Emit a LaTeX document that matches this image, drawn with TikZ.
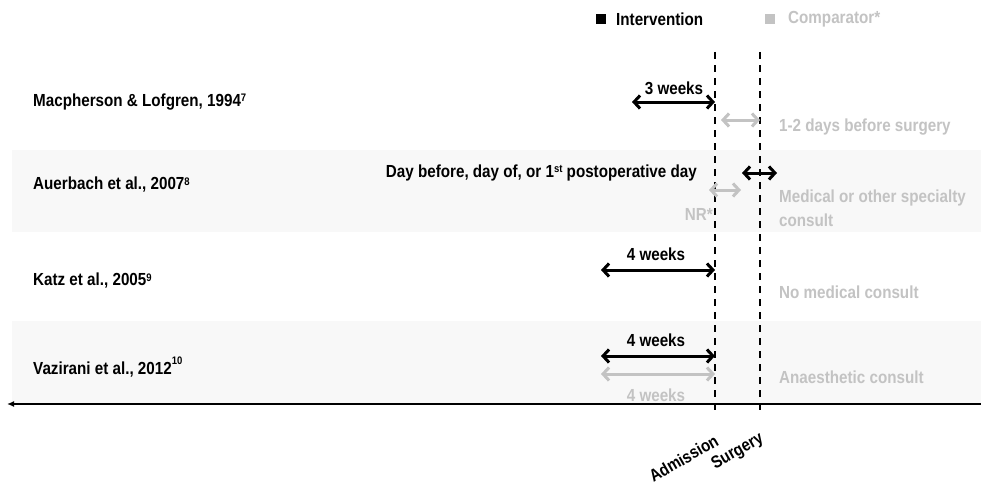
\documentclass[tikz,border=0pt]{standalone}
\usepackage{fontspec}
\setmainfont{Liberation Sans}
\usetikzlibrary{arrows.meta}
\definecolor{comp}{RGB}{195,195,195}
\definecolor{bandcol}{RGB}{248,248,248}
\newcommand\supsm[1]{\raisebox{0.5ex}{\fontsize{9.5}{10}\selectfont #1}}
\newcommand\suphi[1]{\raisebox{1.1ex}{\fontsize{9.5}{10}\selectfont #1}}
\begin{document}
\begin{tikzpicture}[x=1pt,y=-1pt,
  lbl/.style={font=\bfseries\fontsize{15.2}{21}\selectfont, inner sep=0pt, yscale=1.15},
  graylbl/.style={lbl, text=comp},
  axlbl/.style={font=\bfseries\fontsize{15}{18}\selectfont, inner sep=0pt, rotate=30, yscale=1.15},
  span/.style={line width=3pt, {Straight Barb[length=6pt,width=13pt]}-{Straight Barb[length=6pt,width=13pt]}},
  intv/.style={span, draw=black},
  cmp/.style={span, draw=comp},
  timeline/.style={dashed, line width=1.7pt, dash pattern=on 7pt off 6pt},
  axisline/.style={line width=1.6pt, -{Latex[length=7pt,width=6pt]}},
  legsq/.style={minimum size=10pt, inner sep=0pt, draw=none}
]
\useasboundingbox (0,0) rectangle (981,487);
\fill[white] (0,0) rectangle (981,487);
% shaded bands
\fill[bandcol] (12,150) rectangle (981,232);
\fill[bandcol] (12,321) rectangle (981,403);

% legend
\node[legsq, fill=black] (sqI) at (601,19) {};
\node[lbl, anchor=west] (legI) at (616,19) {Intervention};
\node[legsq, fill=comp] (sqC) at (770,19) {};
\node[graylbl, anchor=west] (legC) at (788,19) {Comparator*};

% time lines
\coordinate (admTop) at (715,52);
\coordinate (admBot) at (715,413);
\coordinate (surTop) at (760,52);
\coordinate (surBot) at (760,413);
\draw[timeline] (admTop) -- (admBot);
\draw[timeline] (surTop) -- (surBot);

% axis
\coordinate (axR) at (981,404);
\coordinate (axL) at (7,404);
\draw[axisline] (axR) -- (axL);

% axis labels
\node[axlbl, anchor=east] (adm) at (717,439) {Admission};
\node[axlbl, anchor=west] (sur) at (713,466) {Surgery};

% row 1
\node[lbl, anchor=west] (r1) at (33,102) {Macpherson \& Lofgren, 1994\supsm{7}};
\coordinate (a1l) at (632,102);
\coordinate (a1r) at (715,102);
\draw[intv] (a1l) -- (a1r);
\node[lbl] (t1) at (674,88) {3 weeks};
\coordinate (c1l) at (721,120);
\coordinate (c1r) at (760,120);
\draw[cmp] (c1l) -- (c1r);
\node[graylbl, anchor=west] (g1) at (779,127) {1-2 days before surgery};

% row 2
\node[lbl, anchor=west] (r2) at (33,185) {Auerbach et al., 2007\supsm{8}};
\node[lbl, anchor=east] (t2) at (697,173) {Day before, day of, or 1\supsm{st} postoperative day};
\coordinate (a2l) at (742,173);
\coordinate (a2r) at (777,173);
\draw[intv] (a2l) -- (a2r);
\coordinate (c2l) at (709,190);
\coordinate (c2r) at (741,190);
\draw[cmp] (c2l) -- (c2r);
\node[graylbl, anchor=east] (nr) at (713,214) {NR*};
\node[graylbl, anchor=west, align=left] (g2) at (779,208) {Medical or other specialty\\consult};

% row 3
\node[lbl, anchor=west] (r3) at (33,281) {Katz et al., 2005\supsm{9}};
\coordinate (a3l) at (601,270);
\coordinate (a3r) at (715,270);
\draw[intv] (a3l) -- (a3r);
\node[lbl] (t3) at (656,254) {4 weeks};
\node[graylbl, anchor=west] (g3) at (779,292) {No medical consult};

% row 4
\node[lbl, anchor=west] (r4) at (33,367) {Vazirani et al., 2012\suphi{10}};
\coordinate (a4l) at (601,356);
\coordinate (a4r) at (715,356);
\draw[intv] (a4l) -- (a4r);
\node[lbl] (t4) at (656,340) {4 weeks};
\coordinate (c4l) at (601,374);
\coordinate (c4r) at (715,374);
\draw[cmp] (c4l) -- (c4r);
\node[graylbl] (t4c) at (656,395) {4 weeks};
\node[graylbl, anchor=west] (g4) at (779,377) {Anaesthetic consult};
\end{tikzpicture}
\end{document}
